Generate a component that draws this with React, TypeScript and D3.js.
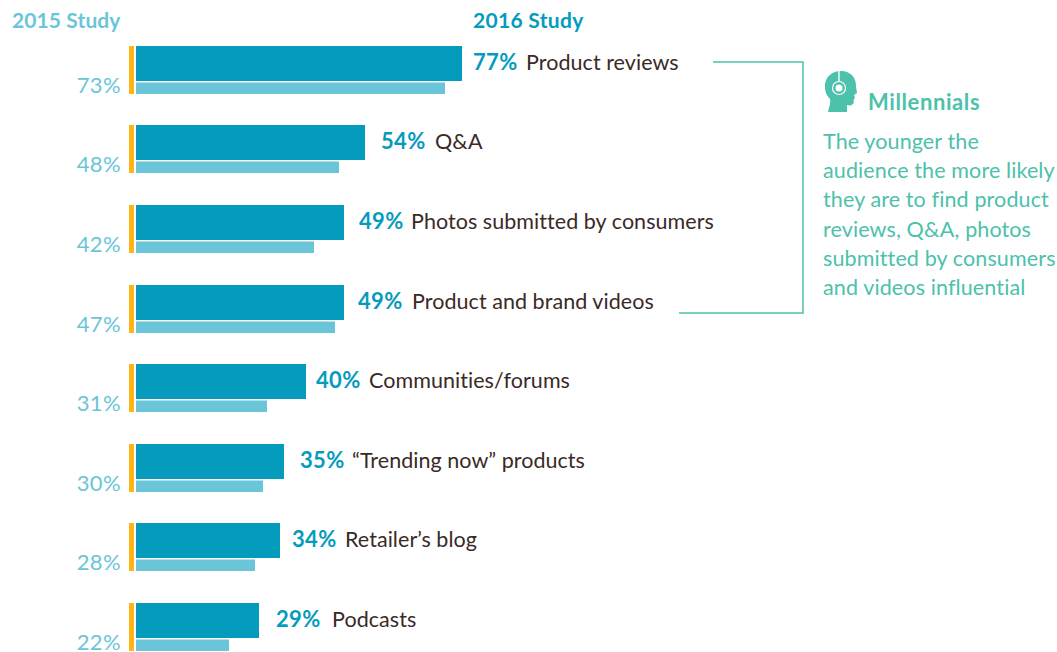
import React from 'react';
import * as d3 from 'd3';

const categories = ['Product reviews', 'Q&A', 'Photos submitted by consumers', 'Product and brand videos', 'Communities/forums', '“Trending now” products', 'Retailer’s blog', 'Podcasts'];
const study2016 = [77, 54, 49, 49, 40, 35, 34, 29];
const study2015 = [73, 48, 42, 47, 31, 30, 28, 22];
const noteLines = ['The younger the', 'audience the more likely', 'they are to find product', 'reviews, Q&A, photos', 'submitted by consumers', 'and videos influential'];

// gaps in the original layout are hand placed, not constant
const valueGap = [11, 16, 15, 14, 10, 16, 12, 17];
const nameGap = [53, 54, 52, 54, 53, 52, 53, 56];

const width = 1057;
const height = 652;
const font = 'Lato, sans-serif';
const dark = '#059bbd';
const light = '#6bc5d9';
const yellow = '#fdb515';
const teal = '#4cc1ab';
const ink = '#3a2a26';

export default function App() {
  const x = d3.scaleLinear().domain([0, 77]).range([136, 462.4]).interpolate(d3.interpolateRound);
  const y = d3.scaleBand<number>().domain(d3.range(8)).range([46, 683]);
  const bracket = d3.line()([[713, 62], [803, 62], [803, 313], [679, 313]]) as string;

  return (
    <svg width={width} height={height} style={{ position: 'absolute', left: 0, top: 0, background: '#fff' }} fontFamily={font}>
      <text x={12} y={28} fontSize={21} fontWeight={700} fill={light} letterSpacing={0.1}>2015 Study</text>
      <text x={473} y={28} fontSize={21} fontWeight={700} fill={dark} letterSpacing={0.3}>2016 Study</text>

      {categories.map((name, i) => {
        const top = Math.floor((y(i) as number) + 0.125);
        const end = x(study2016[i]);
        const valueX = end + valueGap[i];
        return (
          <g key={name}>
            <rect x={129} y={top} width={5} height={48} fill={yellow} />
            <rect x={x(0)} y={top} width={end - x(0)} height={35} fill={dark} />
            <rect x={x(0)} y={top + 36.5} width={x(study2015[i]) - x(0)} height={11.5} fill={light} />
            <text x={121} y={top + 46.5} textAnchor="end" fontSize={22} fill={light} letterSpacing={0.4}>{study2015[i]}%</text>
            <text x={valueX} y={top + 24} fontSize={22} fontWeight={700} fill={dark} letterSpacing={0.3}>{study2016[i]}%</text>
            <text x={valueX + nameGap[i]} y={top + 24} fontSize={21.5} fill={ink} letterSpacing={0.05}>{name}</text>
          </g>
        );
      })}

      <path d={bracket} fill="none" stroke={teal} strokeWidth={1.5} />

      <g transform="translate(824,71)" fill={teal}>
        <path d="M1 17 C0 6 8 0 17 0 C27 0 32 7 32 15 C32 18 33 20 33 22 L30 24 L31 27 C30 28 29 29 30 31 C29 34 27 35 23 34 L23 41 L4 41 C5 36 7 32 6 28 C3 25 1 21 1 17 Z" />
        <circle cx={15} cy={17} r={6.5} fill="none" stroke="#fff" strokeWidth={1.2} />
        <circle cx={15} cy={17} r={3.5} fill="#fff" />
        <rect x={14.3} y={0} width={1.4} height={10} fill="#fff" />
      </g>
      <text x={868} y={110} fontSize={22} fontWeight={700} fill={teal} letterSpacing={0.6}>Millennials</text>
      {noteLines.map((line, i) => (
        <text key={line} x={823} y={149 + i * 29.2} fontSize={21.5} fill={teal} letterSpacing={0.12}>{line}</text>
      ))}
    </svg>
  );
}
